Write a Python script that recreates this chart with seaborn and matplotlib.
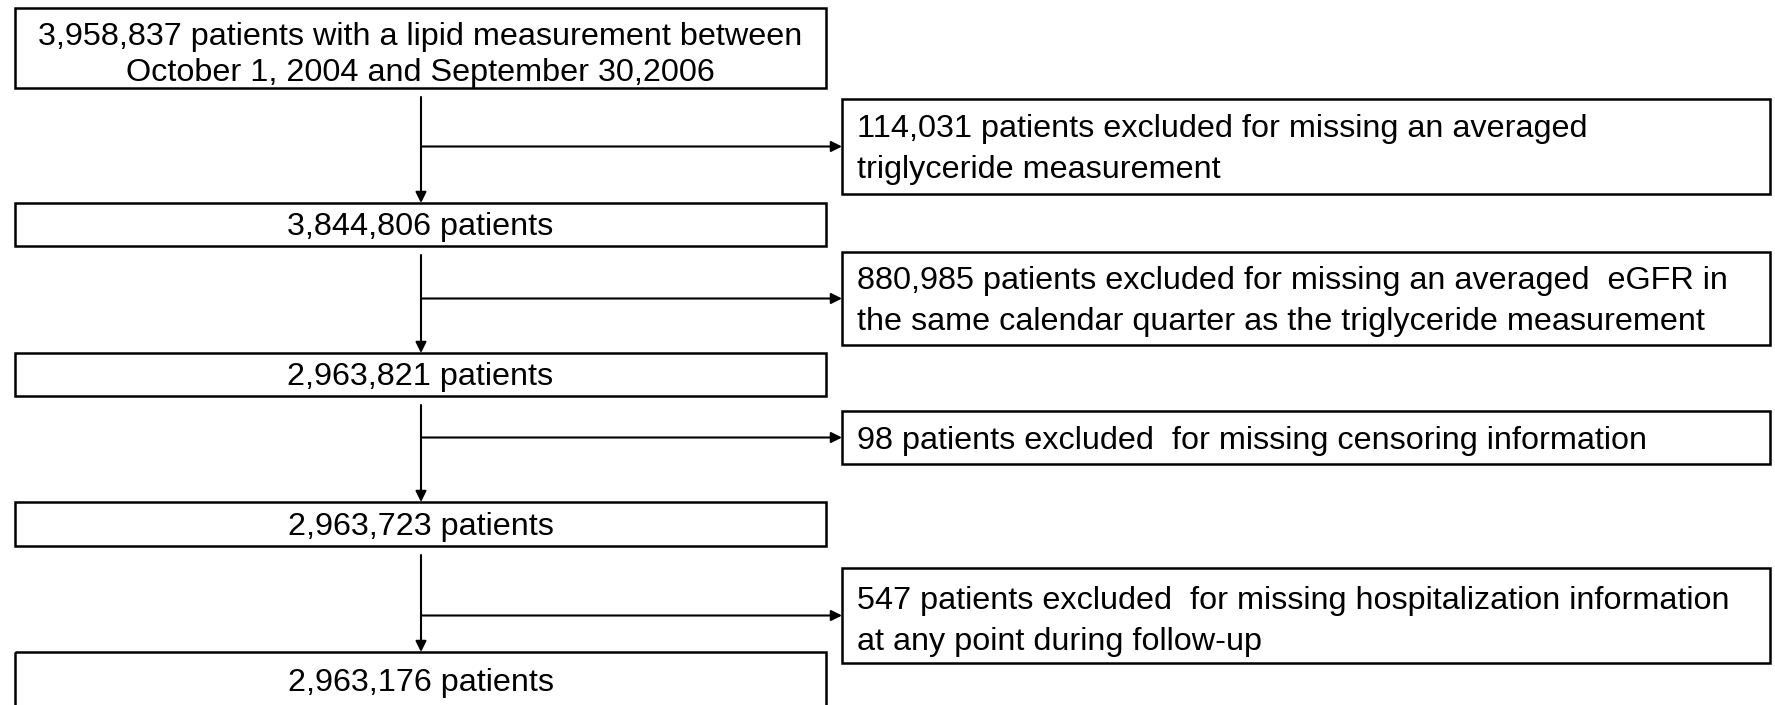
import matplotlib
matplotlib.use("Agg")
import matplotlib.pyplot as plt
import seaborn as sns
from matplotlib.patches import Rectangle

# flow chart content
remaining = ["3,958,837", "3,844,806", "2,963,821", "2,963,723", "2,963,176"]
first_step = "patients with a lipid measurement between\nOctober 1, 2004 and September 30,2006"
excluded = ["114,031", "880,985", "98", "547"]
reasons = [
    "patients excluded for missing an averaged\ntriglyceride measurement",
    "patients excluded for missing an averaged  eGFR in\nthe same calendar quarter as the triglyceride measurement",
    "patients excluded  for missing censoring information",
    "patients excluded  for missing hospitalization information\nat any point during follow-up",
]

sns.set_theme(style="white")
plt.rcParams['font.family'] = ['Liberation Sans', 'DejaVu Sans']

fig = plt.figure(figsize=(17.75, 7.05), dpi=100)
ax = fig.add_axes([0, 0, 1, 1])
ax.set_xlim(0, 1775)
ax.set_ylim(705, 0)
ax.axis('off')

# layout (pixel coords)
main_x = (15, 826)
excl_x = (842, 1770)
main_y = [(8, 88), (203, 246), (353, 396), (502, 546), (652, 715)]
excl_y = [(99, 194), (252, 345), (411, 464), (568, 663)]
spine_x = 421
fs = 23.3

for i, (y0, y1) in enumerate(main_y):
    ax.add_patch(Rectangle((main_x[0], y0), main_x[1] - main_x[0], y1 - y0,
                           fill=False, edgecolor='black', lw=1.8))
    txt = remaining[i] + " patients"
    if i == 0:
        txt = remaining[i] + " " + first_step
    yc = (y0 + y1) / 2 + 3 if i < 4 else 683
    if i == 0:
        yc += 4
    ax.text((main_x[0] + main_x[1]) / 2, yc, txt, ha='center', va='center',
            fontsize=fs, color='black', linespacing=1.3)

arrow_kw = dict(arrowstyle='-|>', color='black', lw=1.5, mutation_scale=16,
                shrinkA=0, shrinkB=0)

for i, (y0, y1) in enumerate(excl_y):
    ax.add_patch(Rectangle((excl_x[0], y0), excl_x[1] - excl_x[0], y1 - y0,
                           fill=False, edgecolor='black', lw=1.8))
    ym = (y0 + y1) / 2
    ax.text(excl_x[0] + 15, ym + (6 if i == 3 else 3), excluded[i] + " " + reasons[i],
            ha='left', va='center', fontsize=fs, color='black', linespacing=1.48)
    # vertical arrow down to next main box
    ax.annotate('', xy=(spine_x, main_y[i + 1][0]), xytext=(spine_x, main_y[i][1] + 9),
                arrowprops=arrow_kw)
    # side arrow into exclusion box
    ax.annotate('', xy=(excl_x[0], ym), xytext=(spine_x, ym), arrowprops=arrow_kw)

fig.savefig("out.png", dpi=100, facecolor='white')
